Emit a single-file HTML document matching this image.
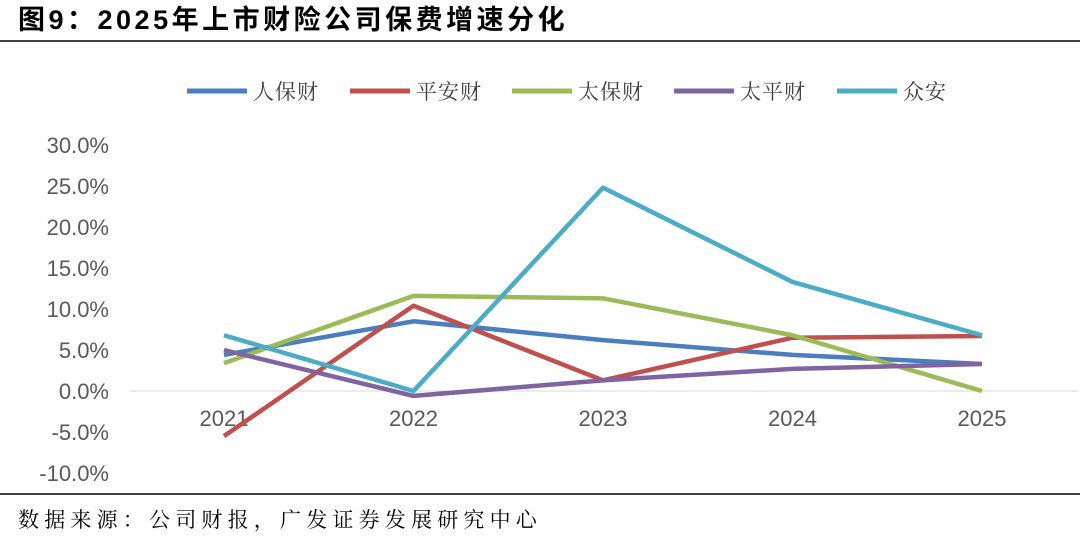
<!DOCTYPE html>
<html><head><meta charset="utf-8"><style>
body{margin:0;background:#fff;width:1080px;height:534px;overflow:hidden;font-family:"Liberation Sans","Noto Sans CJK SC",sans-serif;}
svg text{font-family:"Liberation Sans","Noto Sans CJK SC",sans-serif;}
</style></head><body>
<svg width="1080" height="534">
<text x="18" y="29" font-size="27" font-weight="bold" letter-spacing="3.5" fill="#000">图9：2025年上市财险公司保费增速分化</text>
<line x1="0" y1="41" x2="1080" y2="41" stroke="#000" stroke-width="1.5"/>
<line x1="0" y1="494" x2="1080" y2="494" stroke="#000" stroke-width="1.5"/>
<text x="18" y="527" font-size="21" letter-spacing="5.2" fill="#000" style="font-family:'Liberation Serif','Noto Serif CJK SC',serif">数据来源：公司财报，广发证券发展研究中心</text>
<g id="yaxis"></g><g id="xaxis"></g><g id="series"></g><g id="legend"></g>
</svg>
<script>
const years=["2021","2022","2023","2024","2025"];
const yTicks=[30,25,20,15,10,5,0,-5,-10];
const seriesNames=["人保财","平安财","太保财","太平财","众安"];
const colors=["#4a7ebf","#c0504d","#9bbb59","#8064a2","#4bacc6"];
const picc=[4.4,8.5,6.2,4.4,3.3];
const pingan=[-5.5,10.4,1.3,6.5,6.7];
const cpic=[3.4,11.6,11.3,6.8,0.0];
const taiping=[5.0,-0.6,1.3,2.7,3.3];
const zhongan=[6.8,0.0,24.8,13.3,6.8];
const values=[picc,pingan,cpic,taiping,zhongan];
const NS="http://www.w3.org/2000/svg";
function y(v){return 391-v*8.2;}
function x(i){return 224+i*189.5;}
function mk(t,a,p){const e=document.createElementNS(NS,t);for(const k in a)e.setAttribute(k,a[k]);p.appendChild(e);return e;}
const ya=document.getElementById('yaxis');
yTicks.forEach(v=>{const t=mk('text',{x:109,y:y(v)+8,'text-anchor':'end','font-size':22,fill:'#595959'},ya);t.textContent=v.toFixed(1)+'%';

});
const xa=document.getElementById('xaxis');
const ax=mk('line',{x1:130,y1:y(0),x2:1078,y2:y(0),stroke:'#d9d9d9','stroke-width':1},xa);


years.forEach((yr,i)=>{const t=mk('text',{x:x(i),y:426,'text-anchor':'middle','font-size':22,fill:'#595959'},xa);t.textContent=yr;

});
const sg=document.getElementById('series');
values.forEach((arr,s)=>{const pts=arr.map((v,i)=>x(i)+','+y(v)).join(' ');
const p=mk('polyline',{points:pts,fill:'none',stroke:colors[s],'stroke-width':4.5,'stroke-linejoin':'round'},sg);

});
const lg=document.getElementById('legend');
const lx=[187,350,512,674,837];
seriesNames.forEach((n,s)=>{const g=mk('g',{},lg);


mk('line',{x1:lx[s],y1:91,x2:lx[s]+60,y2:91,stroke:colors[s],'stroke-width':5},g);
const t=mk('text',{x:lx[s]+66,y:99,'font-size':21,'letter-spacing':1,fill:'#404040',style:"font-family:'Liberation Serif','Noto Serif CJK SC',serif"},g);t.textContent=n;});
</script>
</body></html>
